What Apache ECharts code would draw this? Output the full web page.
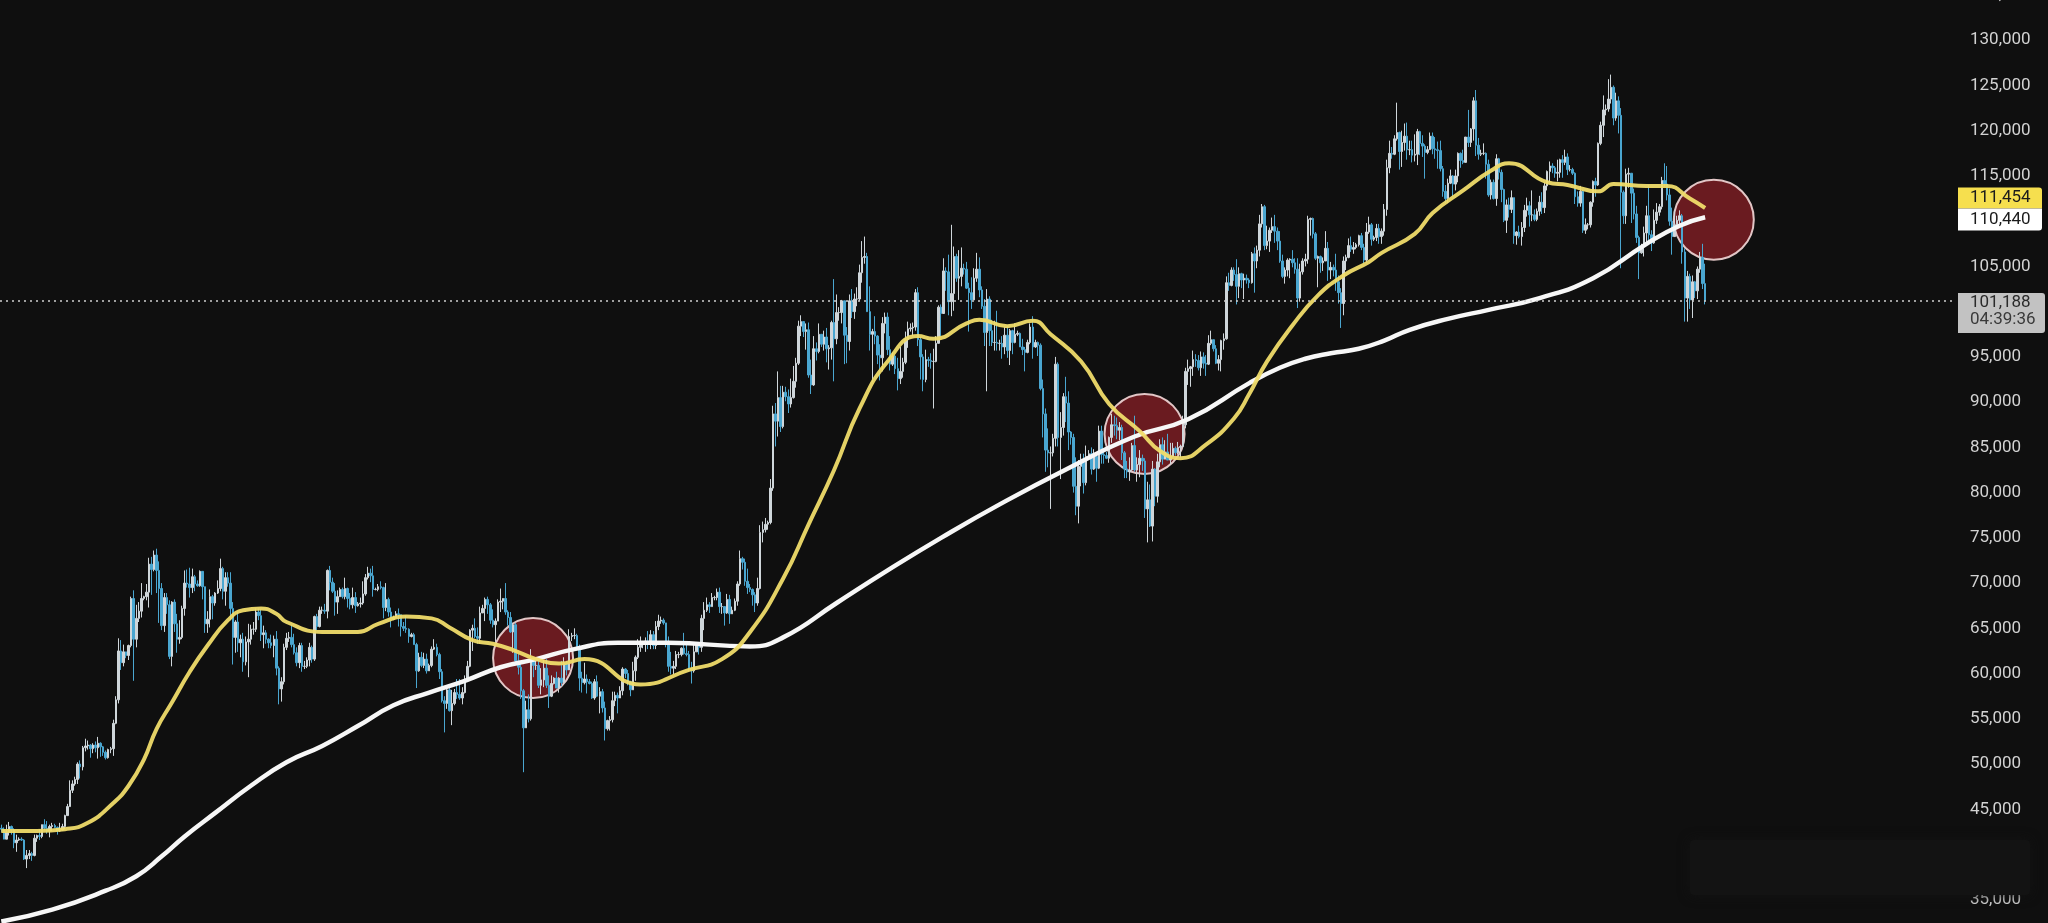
<!DOCTYPE html>
<html><head><meta charset="utf-8">
<script src="https://cdn.jsdelivr.net/npm/echarts@6/dist/echarts.min.js"></script>
<style>html,body{margin:0;padding:0;background:#0f0f0f;}#c{width:2048px;height:923px;}</style>
</head><body><div id="c"></div>
<script>
// ---- data (prices in thousands of USD), daily candles from 13 Jan 2024 to 12 Nov 2025 ----
const firstOpen = 42.9;
const closes = [
42.8,41.7,42.5,43.1,42.7,41.3,41.6,41.7,41.6,39.5,39.9,40.1,39.9,41.8,42.1,42.0,43.3,42.9,42.6,
43.1,43.2,43.0,42.6,42.7,43.1,44.3,45.3,47.1,47.8,48.3,50.0,49.7,51.8,52.0,52.1,51.7,52.1,51.8,52.3,51.9,51.3,50.7,51.6,51.7,54.5,57.1,62.5,61.2,
62.4,62.0,63.1,68.3,63.8,66.1,66.9,68.3,68.5,69.0,72.1,71.5,73.1,71.4,69.4,65.3,68.4,67.6,61.9,67.9,65.5,63.8,64.0,67.2,70.0,69.9,69.5,70.7,69.9,69.7,71.3,
69.6,65.5,66.0,68.5,67.8,68.9,69.4,71.6,69.1,70.6,70.0,67.2,64.0,65.7,63.4,63.8,61.3,63.5,63.8,64.9,64.9,66.8,66.4,64.3,64.5,63.8,63.4,63.1,63.8,60.6,
58.3,59.1,62.9,63.9,64.0,63.2,62.3,61.2,63.1,60.8,60.8,61.5,62.9,61.6,66.3,65.2,67.0,67.0,66.9,71.4,70.1,69.1,67.9,68.5,69.3,68.5,69.4,68.3,67.6,68.4,67.5,
67.7,67.8,68.8,70.6,71.1,70.8,69.3,69.3,69.6,69.5,67.3,68.2,66.8,66.0,66.2,66.6,66.5,65.2,65.0,64.9,64.1,64.3,63.2,60.3,61.8,60.9,61.6,60.3,60.9,62.7,
62.9,62.1,60.2,57.0,56.7,58.2,55.9,56.7,57.9,57.7,57.3,57.9,59.2,60.8,64.8,65.0,64.1,63.9,66.7,67.2,68.2,67.6,65.9,65.4,65.8,67.9,68.0,68.3,66.8,66.2,64.6,
65.4,61.4,60.7,58.1,54.0,56.0,55.0,61.7,60.9,60.9,58.7,59.3,60.6,58.7,57.5,58.9,59.5,58.4,59.5,59.0,61.2,60.4,64.1,64.2,64.2,62.8,59.5,59.0,59.4,59.1,58.9,
57.3,59.1,57.5,58.0,56.2,53.9,54.8,54.9,57.0,57.6,57.3,58.1,60.5,60.0,59.1,58.2,60.3,61.8,62.9,63.2,63.3,63.6,63.3,64.3,63.1,65.2,65.8,65.9,65.6,63.3,
60.8,60.6,60.8,62.1,62.1,62.8,62.2,62.1,60.6,60.3,62.4,63.2,62.9,66.1,67.0,67.6,67.4,68.4,68.4,69.0,67.4,67.4,66.7,68.2,66.6,67.0,68.0,69.9,72.7,72.3,70.2,
69.5,69.3,68.7,67.8,69.4,75.6,75.9,76.5,76.7,80.5,88.7,87.9,90.5,87.3,91.1,90.6,89.8,90.5,92.3,94.3,98.4,98.9,97.8,98.0,93.0,91.9,95.9,95.6,97.5,96.4,
97.2,95.9,96.0,98.8,97.0,99.9,99.9,101.2,97.4,96.7,101.2,100.0,101.4,101.4,104.3,106.0,106.1,100.0,97.5,97.8,97.3,95.2,94.9,98.7,99.4,95.8,94.2,95.1,93.7,92.6,93.4,
94.4,96.9,98.1,98.2,98.3,102.1,96.9,95.0,92.5,94.7,94.6,94.5,94.5,96.5,100.5,99.8,104.5,104.4,101.1,102.0,106.1,103.7,103.9,104.8,104.7,102.6,102.1,101.3,103.7,104.7,102.4,
100.6,97.7,101.4,97.9,96.6,96.6,96.5,96.5,96.1,97.4,95.7,97.9,96.6,97.5,97.6,96.1,95.8,95.5,96.6,98.3,96.1,96.6,96.3,91.5,88.7,84.7,84.4,84.4,
86.0,94.2,86.1,87.2,90.6,89.9,86.7,86.1,80.7,78.5,82.9,83.7,81.1,84.0,84.3,82.6,84.0,82.7,86.8,84.2,84.1,83.8,86.1,87.5,87.4,86.9,87.2,84.4,82.6,82.3,82.5,
85.2,82.5,83.1,83.8,83.5,78.2,79.2,76.3,82.6,79.6,83.4,85.3,83.7,84.5,83.6,84.0,84.9,84.4,85.0,85.1,87.5,93.4,93.7,93.9,94.7,94.6,93.8,95.0,94.3,94.2,
96.5,96.9,95.9,94.3,94.7,96.8,97.0,103.2,102.9,104.6,104.1,102.8,104.2,103.5,103.7,103.5,103.2,106.4,105.6,106.8,109.7,111.6,107.3,107.8,109.0,109.4,108.9,107.8,105.6,103.9,104.6,
105.7,105.8,105.4,104.7,101.5,104.4,105.6,105.8,110.2,110.3,108.6,105.9,106.1,105.4,105.6,107.0,104.6,104.9,104.6,103.3,102.1,100.9,105.6,106.0,107.3,106.9,107.1,107.4,108.4,107.1,
105.7,108.8,109.6,108.0,108.2,109.2,108.3,108.9,111.3,115.9,117.5,117.4,119.1,119.8,117.7,118.7,119.4,117.9,117.9,117.3,117.4,119.9,118.6,118.3,117.6,117.9,119.4,118.0,117.9,117.8,115.8,
113.3,112.5,114.2,115.0,114.1,115.0,117.5,116.7,116.5,119.3,118.7,120.2,123.3,118.4,117.4,117.5,117.5,116.3,112.9,114.3,112.5,116.9,115.4,113.5,110.1,111.8,111.3,112.6,108.4,108.8,108.3,
109.3,111.2,111.7,110.7,110.7,110.2,111.1,112.1,111.5,113.9,115.5,116.1,115.9,115.3,115.4,116.8,116.5,117.1,115.7,115.7,115.3,112.7,112.0,113.3,109.0,109.6,109.6,112.1,114.4,114.0,
118.6,120.6,122.3,122.4,123.5,124.8,121.4,123.3,121.7,113.2,110.6,115.2,115.3,113.1,110.8,108.2,106.5,107.2,108.7,110.6,108.5,107.6,110.1,111.0,111.6,114.5,114.1,112.9,110.0,108.3,109.6,
110.1,110.6,106.6,101.5,103.9,101.3,103.3,102.3,104.7,106.0,103.1,101.2
];
const highs = [
43.3,43.0,43.3,43.6,43.2,42.9,42.2,41.9,41.9,41.7,40.5,40.5,40.3,42.2,42.2,42.8,43.3,43.9,43.7,
43.3,43.5,43.4,43.1,43.5,43.4,44.4,45.6,48.2,48.2,48.6,50.2,50.4,52.0,52.8,52.6,52.2,52.3,52.5,53.0,52.4,52.0,51.5,51.7,51.9,54.9,57.5,63.9,63.7,
63.2,62.4,63.2,68.5,69.2,67.6,67.9,70.0,68.6,69.9,72.8,72.9,73.6,73.8,72.4,70.0,68.9,68.9,68.1,68.0,68.2,66.6,65.9,67.5,71.4,71.5,71.7,71.6,70.9,70.3,71.4,
71.3,69.6,66.9,69.3,68.7,69.0,70.3,72.7,71.8,71.2,71.2,71.2,67.9,65.9,66.8,64.3,64.5,64.1,65.5,65.4,65.7,67.2,67.2,67.1,65.3,64.8,63.9,64.3,64.2,64.7,
60.8,59.6,63.3,64.5,64.6,65.4,64.4,62.9,63.4,63.4,61.4,61.8,63.4,63.1,66.4,66.6,67.4,67.4,67.7,71.5,71.9,70.6,70.0,69.2,69.5,69.5,70.6,69.5,68.9,69.5,69.0,
67.9,68.4,70.2,71.0,71.8,71.6,71.9,69.5,69.9,70.2,69.6,70.0,68.4,67.3,66.4,66.9,67.2,66.5,65.7,66.4,65.0,64.5,64.5,63.4,62.3,62.4,62.3,62.2,61.1,63.0,
63.8,63.3,62.3,60.5,57.5,58.5,58.4,58.2,58.3,59.4,59.4,58.5,59.8,61.4,64.9,65.4,66.1,65.1,67.4,67.6,68.4,68.5,67.8,67.1,66.1,68.2,69.4,68.3,70.0,67.0,66.8,
65.6,65.6,62.2,61.1,58.3,57.0,57.7,62.7,61.7,61.4,61.8,60.6,61.5,61.6,59.8,59.8,59.6,60.2,59.6,61.4,61.8,61.4,64.9,64.5,65.0,64.4,63.2,60.2,61.2,59.9,59.4,
59.1,59.4,59.8,58.5,58.3,56.9,54.9,55.3,58.0,58.0,57.9,58.6,60.7,60.6,60.4,59.2,61.3,62.0,63.8,64.1,63.6,64.0,64.7,64.8,64.7,65.8,66.5,66.3,66.1,65.6,
64.1,62.4,61.4,62.5,62.4,62.9,64.5,63.2,62.5,61.3,63.4,63.4,63.3,66.5,67.9,68.4,67.9,68.9,68.6,69.4,69.5,67.8,67.4,68.8,68.7,67.4,68.3,70.2,73.6,72.9,72.7,
71.6,69.9,69.4,69.0,70.6,76.4,76.8,77.2,76.9,81.5,89.6,89.9,93.4,91.8,91.8,91.7,91.4,92.6,94.0,94.9,99.0,99.6,98.9,98.7,98.8,94.7,97.3,96.6,98.7,97.5,
97.9,98.2,96.3,99.0,103.6,101.9,100.5,101.3,101.2,98.3,101.9,102.5,102.0,102.7,105.2,107.8,108.3,106.5,102.8,98.1,99.5,97.4,96.4,99.4,99.9,99.9,97.3,95.5,95.2,94.9,96.1,
94.9,97.8,98.9,98.7,98.8,102.5,102.7,97.2,95.3,95.8,95.0,95.4,95.9,97.3,100.7,100.8,105.9,104.9,106.3,109.6,107.2,106.4,106.8,107.1,105.3,105.5,103.2,103.8,104.8,106.5,106.0,
102.8,101.4,102.5,101.7,99.1,99.0,100.1,96.9,97.3,98.3,98.4,98.1,98.0,98.7,97.9,97.7,97.0,96.1,96.9,98.7,99.5,96.9,96.7,96.5,92.5,89.3,87.1,85.1,
86.5,95.0,94.4,88.9,91.0,92.8,91.2,86.8,86.5,83.9,83.6,84.3,84.3,85.2,84.7,85.0,84.8,84.0,87.4,87.4,84.8,84.5,86.2,88.7,88.5,88.3,87.8,87.5,84.6,83.5,83.9,
85.5,88.5,83.9,84.7,84.2,83.8,81.2,80.9,83.5,82.7,84.3,85.9,86.1,85.8,86.5,85.5,85.5,85.1,85.6,85.3,88.5,93.8,94.7,94.0,95.7,95.3,95.2,95.6,95.5,95.2,
97.4,97.9,96.9,96.3,95.2,96.9,97.6,103.9,104.3,104.9,104.9,105.8,104.9,104.3,104.2,104.1,103.7,106.6,107.1,107.3,110.7,111.9,111.8,109.5,109.3,110.4,110.7,109.3,108.9,106.3,104.9,
105.9,105.9,106.8,105.9,105.9,105.3,105.9,106.4,110.6,110.4,110.4,108.8,106.2,106.2,106.0,108.9,107.7,105.5,105.2,106.4,104.0,102.6,106.1,106.3,108.1,108.3,107.7,107.6,108.5,108.7,
107.5,109.8,110.5,109.8,108.4,109.7,109.7,109.2,111.9,116.8,118.9,118.2,119.5,123.1,119.9,120.0,120.8,120.9,118.9,118.9,119.6,120.2,120.0,119.5,118.5,118.3,119.8,119.8,119.3,118.8,118.9,
116.1,114.0,114.7,115.7,115.1,115.7,117.6,117.6,117.9,119.3,122.3,120.3,123.7,124.5,119.2,117.9,118.6,117.6,116.8,114.6,114.6,117.4,117.0,115.7,113.6,112.4,112.6,113.4,112.6,108.9,109.5,
109.9,111.8,112.6,112.2,113.4,111.3,111.4,112.8,113.2,114.3,115.6,116.6,116.4,116.1,116.8,116.9,117.3,117.9,117.5,116.2,115.9,115.4,113.3,113.9,113.5,110.3,109.8,112.2,114.5,114.8,
118.7,121.0,123.9,122.9,125.7,126.2,125.0,124.2,123.8,122.5,113.4,115.8,115.9,115.3,113.6,111.7,108.4,107.5,109.4,111.7,114.0,109.0,111.3,112.0,111.9,114.9,116.4,116.1,113.6,111.5,111.2,
110.6,111.2,110.8,107.0,104.5,104.2,104.0,103.4,105.0,106.6,107.5,105.3
];
const lows = [
42.5,41.7,41.7,42.1,42.2,40.7,40.3,41.5,41.5,39.4,38.5,39.5,39.3,39.8,41.4,41.6,41.8,42.7,42.3,
41.9,42.6,42.9,42.2,42.5,42.6,42.8,44.3,45.3,46.8,47.6,47.8,48.4,49.3,51.4,51.6,50.7,51.2,51.3,50.6,50.8,50.9,50.5,50.6,51.2,50.9,54.4,56.7,60.4,
60.8,61.7,61.5,62.9,59.2,62.9,65.7,66.2,68.1,68.1,67.3,68.7,71.3,68.9,65.6,64.8,64.6,66.6,61.6,60.8,64.6,62.3,63.3,63.8,66.4,69.5,68.4,68.9,69.1,69.6,69.6,
68.2,64.5,64.5,65.1,66.0,67.5,68.8,69.1,68.2,67.5,69.6,65.9,61.0,62.3,62.4,61.8,60.2,60.9,59.6,63.2,64.3,64.6,65.9,63.6,62.8,63.3,62.8,62.8,61.8,59.8,
56.6,56.9,58.8,62.6,63.5,62.9,62.1,60.8,60.6,60.2,60.5,60.6,60.8,61.2,61.4,64.8,65.1,66.6,66.6,66.1,69.2,68.9,66.4,66.6,68.5,68.3,68.2,67.3,67.1,67.2,66.7,
67.4,67.3,67.6,68.6,70.4,70.1,68.5,69.2,69.1,69.3,66.1,66.9,66.3,65.1,65.9,66.1,65.2,64.1,64.7,64.5,63.4,64.0,63.2,58.4,60.2,60.7,60.6,60.0,60.3,60.7,
62.6,61.9,59.4,56.8,53.5,56.1,55.8,54.3,56.5,57.2,57.1,56.6,57.8,59.2,60.7,62.5,63.9,63.3,63.3,66.7,65.8,66.6,65.5,65.1,63.5,65.8,66.8,67.1,66.5,65.3,64.5,
62.3,61.2,59.9,57.2,49.1,54.0,54.6,54.8,59.6,60.4,58.4,57.7,58.5,58.4,56.2,57.4,58.8,58.4,57.9,58.6,58.8,59.8,60.4,63.6,63.8,62.8,58.1,57.9,58.8,57.8,58.8,
57.2,57.1,57.4,55.6,55.7,52.6,53.7,53.7,54.6,56.4,55.6,57.4,57.6,59.5,58.7,57.5,58.2,59.2,61.6,62.4,62.8,62.4,62.7,62.7,62.7,62.7,64.8,65.5,65.4,62.9,
60.2,59.9,59.9,60.5,61.7,61.9,62.1,61.9,60.3,58.9,60.1,62.4,62.1,62.4,64.8,66.8,66.7,67.4,68.1,68.1,66.7,66.6,65.3,66.6,65.5,66.6,66.9,67.5,69.7,71.5,69.7,
68.8,69.0,67.5,66.8,67.5,69.3,74.5,75.6,75.9,76.5,80.2,85.1,86.2,86.7,87.1,90.1,88.8,89.4,90.4,91.6,94.1,97.3,97.2,95.8,92.7,90.9,91.8,94.6,95.4,96.1,
95.7,94.4,93.6,94.7,92.3,96.4,99.0,98.7,94.2,94.3,95.7,99.3,99.2,100.6,101.2,103.2,105.3,100.0,95.7,92.2,96.4,94.2,92.4,93.4,97.6,95.2,93.5,94.0,93.1,91.3,92.0,
92.7,94.2,96.0,97.8,97.3,97.9,96.2,92.5,91.2,92.2,93.9,93.7,89.3,94.4,96.5,97.3,99.9,102.3,99.6,99.5,100.1,103.3,101.3,102.8,104.1,102.5,97.8,100.3,101.3,103.3,101.6,
100.3,96.2,91.2,96.2,96.2,95.7,95.7,95.7,94.8,95.3,94.9,94.1,95.3,96.5,97.3,96.1,95.2,93.4,95.4,96.4,94.8,96.0,95.1,91.3,86.1,82.3,82.8,78.2,
84.0,85.1,85.1,81.5,86.3,87.8,84.7,85.3,80.0,77.5,76.6,80.7,79.9,80.8,83.7,82.0,82.5,81.2,82.6,83.2,83.2,83.7,83.3,85.5,86.3,85.9,85.8,83.6,81.6,81.6,81.3,
82.4,82.3,81.2,81.7,82.4,77.2,74.5,76.2,74.6,78.5,78.9,82.8,83.1,83.7,83.6,83.1,83.9,84.1,84.2,83.9,85.1,87.1,91.9,91.7,92.9,93.9,93.5,92.9,93.7,92.9,
94.1,96.3,95.6,94.2,93.5,93.4,95.8,96.9,102.3,102.8,103.4,100.8,101.5,102.6,101.4,103.1,102.6,103.1,102.1,104.8,106.1,109.3,106.8,106.9,106.6,108.7,107.6,106.8,105.4,103.7,103.1,
103.9,103.7,104.9,104.2,100.4,101.1,104.1,105.0,105.3,108.4,108.1,105.7,102.7,104.3,104.5,105.6,103.4,103.6,103.9,102.3,100.9,98.2,99.6,104.6,105.9,106.6,106.4,106.9,107.2,106.8,
105.3,105.4,108.6,107.3,107.8,107.8,107.5,107.5,108.4,110.6,115.3,116.9,117.3,118.9,115.7,116.0,117.8,116.8,117.3,116.5,116.6,116.2,117.3,117.1,114.7,117.4,117.9,117.4,116.9,115.8,115.5,
112.7,112.0,112.0,114.1,112.7,113.4,114.3,115.9,116.3,116.5,118.2,118.2,118.9,117.2,116.8,117.2,117.3,114.7,112.7,112.4,112.4,111.7,114.6,112.1,109.9,108.7,110.4,110.9,107.5,107.4,108.1,
107.3,108.8,110.5,109.4,110.0,110.0,110.0,110.6,110.8,110.9,113.4,114.3,115.3,114.8,114.4,114.8,114.8,116.2,115.1,115.5,115.1,111.9,111.6,111.6,108.7,108.6,109.1,109.3,111.6,112.7,
113.9,118.4,119.3,121.7,122.1,123.0,120.6,121.1,119.7,104.8,109.7,109.7,113.7,109.8,110.2,107.6,103.6,106.4,106.1,107.5,107.5,106.7,107.5,109.7,110.6,111.3,113.8,112.3,109.5,106.3,108.3,
109.4,109.5,105.3,98.9,98.9,100.3,99.3,101.5,101.4,104.3,102.5,100.8
];
// 50-day MA (yellow): [day index, value]
const ma50 = [[0,42.6],[14,42.6],[25,42.8],[34,43.5],[44,45.7],[50,47.6],[56,50.5],[61,53.9],[67,56.8],[74,60.2],[81,63.1],[89,65.9],[95,67.0],[102,67.2],[108,66.6],[112,65.7],[126,64.6],[140,64.6],[148,65.5],[159,66.3],[169,66.1],[176,65.1],[185,63.7],[193,63.3],[201,62.6],[210,61.6],[219,61.1],[229,61.6],[251,58.8],[270,60.4],[283,61.6],[294,64.6],[307,70.5],[317,76.5],[327,82.5],[337,89.3],[348,94.5],[360,97.3],[366,97.0],[379,98.7],[384,99.1],[395,98.4],[405,99.0],[412,97.5],[424,94.5],[435,89.8],[447,86.8],[455,84.6],[463,83.8],[473,85.3],[484,88.2],[490,90.9],[497,94.5],[507,98.5],[517,101.8],[527,104.0],[537,105.5],[542,106.5],[555,108.6],[562,110.9],[574,113.4],[585,115.6],[592,116.4],[607,114.3],[615,114.0],[627,113.3],[633,114.1],[646,113.9],[654,113.9],[663,112.5],[669,111.454]];
// 200-day MA (white)
const ma200 = [[0,32.6],[20,33.9],[41,36.0],[53,37.6],[63,39.8],[72,42.0],[84,44.6],[98,47.6],[112,50.2],[126,52.0],[140,54.2],[154,56.5],[168,57.9],[182,59.2],[196,60.7],[210,61.6],[225,62.7],[242,63.4],[262,63.4],[294,63.0],[307,64.0],[328,67.8],[348,71.4],[369,75.0],[392,78.7],[419,82.7],[445,86.2],[466,88.1],[490,92.1],[502,93.8],[512,94.8],[522,95.4],[533,95.9],[543,96.8],[553,98.0],[568,99.2],[584,100.2],[604,101.5],[625,103.7],[646,107.5],[659,109.5],[669,110.44]];
// crossover markers
const crossDays = [208.8, 448.9, 672.4];
const crossValues = [61.71, 86.49, 110.16];
// price scale labels
const lastPrice = 101.188, lastMa50 = 111.454, lastMa200 = 110.440, countdown = '04:39:36';
const slotCount = 768; // daily slots across the plot incl. right margin

const fmt = v => Math.round(v * 1000).toLocaleString('en-US');
const candles = closes.map((c, i) => [i === 0 ? firstOpen : closes[i - 1], c, lows[i], highs[i]]);
const cats = Array.from({length: slotCount}, (_, i) => i);

const chart = echarts.init(document.getElementById('c'), null, {renderer: 'canvas'});
chart.setOption({
  backgroundColor: '#0f0f0f',
  animation: false,
  grid: {left: 0, right: 92, top: -5, bottom: -22, containLabel: false, outerBoundsMode: 'none'},
  xAxis: [
    {type: 'category', data: cats, boundaryGap: true, show: false},
    {type: 'value', min: -0.5, max: slotCount - 0.5, show: false}
  ],
  yAxis: {
    type: 'value', position: 'right', min: 30, max: 135, interval: 5,
    axisLine: {show: false}, axisTick: {show: false}, splitLine: {show: false},
    axisLabel: {margin: 14, color: '#d2d2d2', fontSize: 17, fontFamily: 'Roboto', showMaxLabel: true, formatter: v => fmt(v)}
  },
  series: [
    {type: 'scatter', xAxisIndex: 1, data: crossDays.map((d, i) => [d, crossValues[i]]),
     symbolSize: 80, silent: true, z: 1,
     itemStyle: {color: '#6a1b20', borderColor: '#e2c6c6', borderWidth: 2, opacity: 1}},
    {type: 'candlestick', xAxisIndex: 0, data: candles, barWidth: 2, large: false, z: 2,
     itemStyle: {color: '#cfd6da', color0: '#4aa6d0', borderColor: '#cfd6da', borderColor0: '#4aa6d0', borderWidth: 1},
     markLine: {symbol: 'none', silent: true, label: {show: false},
       lineStyle: {color: '#d0d0d0', type: [2, 4], width: 1.5}, data: [{yAxis: lastPrice}]}},
    {type: 'line', xAxisIndex: 1, data: ma200, smooth: true, showSymbol: false, z: 3,
     lineStyle: {color: '#f7f7f7', width: 4.5}},
    {type: 'line', xAxisIndex: 1, data: ma50, smooth: true, showSymbol: false, z: 4,
     lineStyle: {color: '#f0dc6a', width: 4, opacity: 0.95}}
  ]
});

// price-scale tags, positioned through the chart's own scales
const gx = chart.convertToPixel({xAxisIndex: 1}, slotCount - 0.5);
const bx = gx + 2;
const y50 = chart.convertToPixel({yAxisIndex: 0}, lastMa50);
const y200 = chart.convertToPixel({yAxisIndex: 0}, lastMa200);
const yP = chart.convertToPixel({yAxisIndex: 0}, lastPrice);
const mid = (y50 + y200) / 2 - 4;
const font = '17px Roboto';
chart.setOption({
  graphic: [
    {type: 'rect', z: 100, shape: {x: bx, y: mid - 21, width: 84, height: 21, r: [0, 3, 0, 0]}, style: {fill: '#f6df4e'}},
    {type: 'text', z: 101, style: {text: fmt(lastMa50), x: bx + 12, y: mid - 10.5, verticalAlign: 'middle', fill: '#1c1c1c', font: font}},
    {type: 'rect', z: 100, shape: {x: bx, y: mid, width: 84, height: 22, r: [0, 0, 3, 0]}, style: {fill: '#ffffff'}},
    {type: 'text', z: 101, style: {text: fmt(lastMa200), x: bx + 12, y: mid + 11, verticalAlign: 'middle', fill: '#1c1c1c', font: font}},
    {type: 'rect', z: 100, shape: {x: bx, y: yP - 8, width: 87, height: 40, r: [0, 3, 3, 0]}, style: {fill: '#c2c2c2'}},
    {type: 'text', z: 101, style: {text: fmt(lastPrice), x: bx + 12, y: yP + 2, verticalAlign: 'middle', fill: '#2a2a2a', font: font}},
    {type: 'text', z: 101, style: {text: countdown, x: bx + 12, y: yP + 19, verticalAlign: 'middle', fill: '#3a3a3a', font: font}},
    // blurred watermark patch in the bottom-right corner
    {type: 'rect', z: 90, shape: {x: 1690, y: 840, width: 340, height: 55, r: 4}, style: {fill: '#131313', shadowBlur: 12, shadowColor: '#131313'}}
  ]
});
</script>
</body></html>
